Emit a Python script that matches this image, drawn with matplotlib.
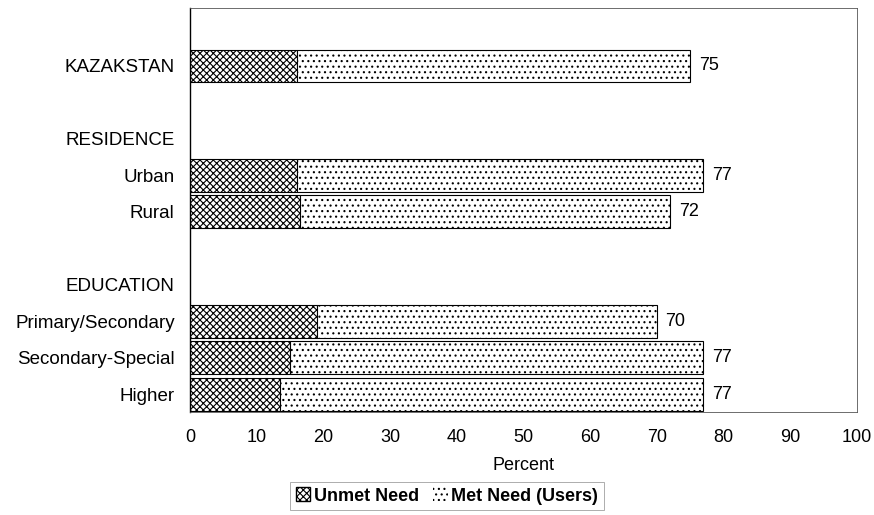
import numpy as np
import matplotlib
matplotlib.use("Agg")
from matplotlib import pyplot as plt
from matplotlib.patches import Patch

plt.rcParams['font.family'] = ['Liberation Sans', 'DejaVu Sans']
plt.rcParams['hatch.linewidth'] = 0.8

labels = ["KAZAKSTAN", "RESIDENCE", "Urban", "Rural", "EDUCATION",
          "Primary/Secondary", "Secondary-Special", "Higher"]
rows = [0, 2, 3, 4, 6, 7, 8, 9]

bar_rows = [0, 3, 4, 7, 8, 9]
unmet = [16, 16, 16.5, 19, 15, 13.5]
total = [75, 77, 72, 70, 77, 77]
met = [t - u for t, u in zip(total, unmet)]

fig = plt.figure(figsize=(8.74, 5.15), dpi=100)
ax = fig.add_axes([0.2174, 0.2, 0.763, 0.7845])

h = 0.9
ax.barh(bar_rows, unmet, height=h, color='white', edgecolor='black',
        hatch='xxxxx', linewidth=0.8)
ax.barh(bar_rows, met, left=unmet, height=h, color='white', edgecolor='black',
        hatch='...', linewidth=0.8)

for r, t in zip(bar_rows, total):
    ax.text(t + 1.3, r, str(t), va='center', ha='left', fontsize=13)

ax.set_xlim(0, 100)
ax.set_ylim(9.49, -1.59)
ax.set_xticks(np.arange(0, 101, 10))
ax.set_yticks(rows)
ax.set_yticklabels(labels)
ax.tick_params(axis='both', length=0, labelsize=13.5)
ax.tick_params(axis='x', pad=12, labelsize=13)
ax.tick_params(axis='y', pad=11)
ax.set_xlabel('Percent', fontsize=13, labelpad=8)

for s in ['top', 'right', 'bottom']:
    ax.spines[s].set_linewidth(0.6)
    ax.spines[s].set_color('#555555')
ax.spines['left'].set_linewidth(1.0)

handles = [Patch(facecolor='white', edgecolor='black', hatch='xxxxx', label='Unmet Need'),
           Patch(facecolor='white', edgecolor='black', linewidth=0, hatch='...', label='Met Need (Users)')]
leg = fig.legend(handles=handles, loc='center', bbox_to_anchor=(447 / 874, 1 - 496 / 515),
                 ncol=2, prop={'size': 13, 'weight': 'bold'}, frameon=True, fancybox=False,
                 handlelength=0.8, handleheight=0.8, handletextpad=0.2, columnspacing=0.8,
                 borderpad=0.3, edgecolor='#888888')
leg.get_frame().set_linewidth(0.6)

fig.savefig('out.png', dpi=100)
